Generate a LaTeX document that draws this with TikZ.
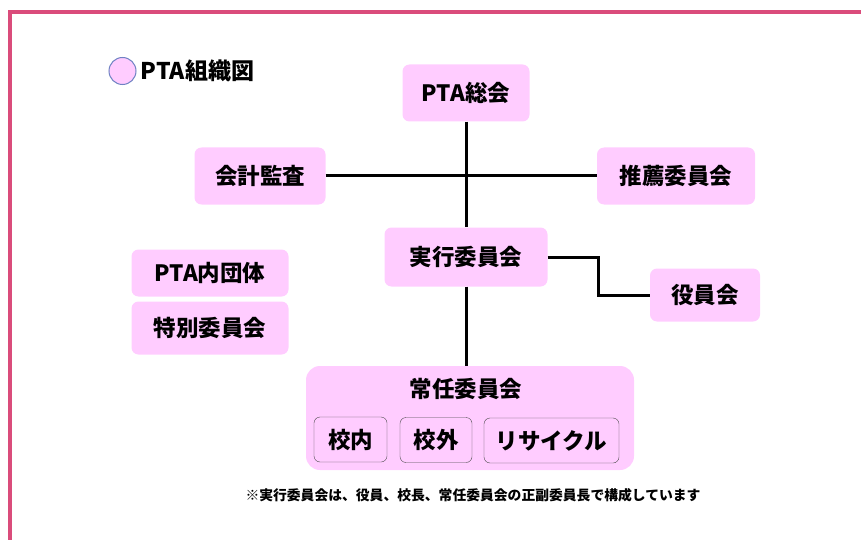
\documentclass[tikz,border=0pt]{standalone}
\usepackage{fontspec}
\setmainfont{Noto Sans CJK JP}
\usetikzlibrary{positioning}
\definecolor{boxpink}{HTML}{FFCCFF}
\definecolor{framepink}{HTML}{DA4C7B}
\definecolor{markblue}{HTML}{6F82C3}

\begin{document}
\begin{tikzpicture}[x=1pt, y=-1pt]
	\useasboundingbox (0,0) rectangle (861,540);
	\draw[color=framepink, line width=3.5pt] (10,12) rectangle (900,580);
	
	% define a style of the boxes, the width is the argument
	\tikzstyle{org box} = [fill=boxpink, rounded corners=7pt, inner sep=0pt, minimum height=57pt, minimum width=#1, font=\bfseries\fontsize{22.5}{22.5}\selectfont]
	\tikzstyle{sub box} = [draw=black!70, fill=boxpink, rounded corners=6pt, inner sep=0pt, minimum height=45pt, minimum width=#1, font=\bfseries\fontsize{22.5}{22.5}\selectfont]
	\tikzstyle{org line} = [line width=3pt, black]
	
	% legend
	\node[circle, draw=markblue, fill=boxpink, line width=1pt, minimum size=27pt, inner sep=0pt] (mark) at (122.5,71) {};
	\node[right=4pt of mark, inner sep=0pt, font=\bfseries\fontsize{23}{23}\selectfont] (title) {PTA組織図};
	
	\node[org box=127pt] (sokai) at (466,93) {PTA総会};
	\node[org box=131pt] (kansa) at (260,176) {会計監査};
	\node[org box=158pt] (suisen) at (676,176) {推薦委員会};
	\node[org box=163pt, minimum height=59pt] (jikko) at (466,257) {実行委員会};
	\node[org box=110pt, minimum height=53pt] (yakuin) at (705,295) {役員会};
	\node[org box=157pt, minimum height=47pt] (dantai) at (210,273) {PTA内団体};
	\node[org box=157pt, minimum height=53pt] (tokubetsu) at (210,328) {特別委員会};
	
	% the standing committees
	\node[org box=328pt, minimum height=104pt, rounded corners=14pt] (joninbox) at (470,418) {};
	\node[font=\bfseries\fontsize{22.5}{22.5}\selectfont] (jonin) at (466,389) {常任委員会};
	\node[sub box=73pt] (konai) at (350.5,439.5) {校内};
	\node[sub box=72pt] (kogai) at (436,440) {校外};
	\node[sub box=135pt] (recycle) at (551.5,440.5) {リサイクル};
	
	\draw[org line] (sokai) -- (jikko);
	\draw[org line] (kansa.east) -- (suisen.west);
	\draw[org line] (jikko.south) -- (jikko.south |- joninbox.north);
	\draw[org line] (jikko.east) -- ++(51,0) |- (yakuin.west);
	
	\node[font=\bfseries\fontsize{13.8}{13.8}\selectfont] (note) at (473,495) {※実行委員会は、役員、校長、常任委員会の正副委員長で構成しています};
\end{tikzpicture}
\end{document}
